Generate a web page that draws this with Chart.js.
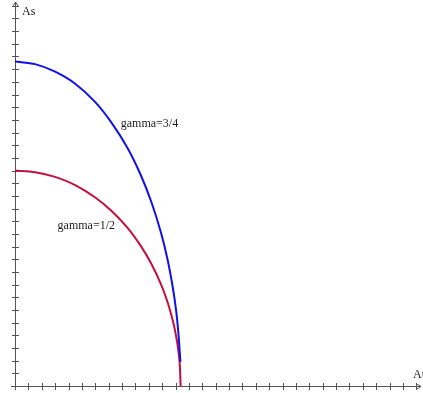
<!DOCTYPE html>
<html>
<head>
<meta charset="utf-8">
<script src="https://cdn.jsdelivr.net/npm/chart.js@4.4.1/dist/chart.umd.min.js"></script>
<style>
  html, body { margin: 0; padding: 0; background: #fff; }
  #wrap { width: 423px; height: 393px; }
</style>
</head>
<body>
<div id="wrap"><canvas id="plot"></canvas></div>
<script>
// curve samples (Au, As)
const gamma34Au = [0, 0.15, 0.3, 0.45, 0.6, 0.72, 0.84, 0.94, 1.02, 1.09, 1.14, 1.18, 1.205, 1.222, 1.232, 1.237];
const gamma34As = [2.56, 2.54, 2.48, 2.385, 2.24, 2.08, 1.88, 1.665, 1.45, 1.215, 1.0, 0.775, 0.59, 0.41, 0.26, 0.19];
const gamma12Au = [0, 0.15, 0.3, 0.45, 0.6, 0.72, 0.84, 0.94, 1.02, 1.09, 1.14, 1.18, 1.205, 1.222, 1.232, 1.238];
const gamma12As = [1.70, 1.687, 1.65, 1.585, 1.487, 1.383, 1.25, 1.106, 0.963, 0.806, 0.663, 0.514, 0.39, 0.272, 0.167, 0];

const curveLabels = ['gamma=3/4', 'gamma=1/2'];
const labelAu = [1.005, 0.533];
const labelAs = [2.07, 1.263];

const xTicks = Array.from({ length: 30 }, (_, i) => (i + 1) / 10);
const yTicks = Array.from({ length: 30 }, (_, i) => (i + 1) / 10);

const toPoints = (xs, ys) => xs.map((x, i) => ({ x: x, y: ys[i] }));

// axes with ticks crossing the line, arrows and text labels
const axesPlugin = {
    id: 'axes',
    beforeDatasetsDraw(chart) {
        const { ctx, scales: { x, y } } = chart;
        const x0 = x.getPixelForValue(0), y0 = y.getPixelForValue(0);
        const xEnd = x.right, yTop = y.top;
        ctx.save();
        ctx.strokeStyle = '#555';
        ctx.lineWidth = 1;
        ctx.beginPath();
        ctx.moveTo(x0 - 4, y0 + 0.5); ctx.lineTo(xEnd, y0 + 0.5);
        ctx.moveTo(x0 + 0.5, y0 + 4); ctx.lineTo(x0 + 0.5, yTop);
        xTicks.forEach(v => {
            const px = Math.round(x.getPixelForValue(v)) + 0.5;
            ctx.moveTo(px, y0 - 3); ctx.lineTo(px, y0 + 4);
        });
        yTicks.forEach(v => {
            const py = Math.round(y.getPixelForValue(v)) + 0.5;
            ctx.moveTo(x0 - 3, py); ctx.lineTo(x0 + 4, py);
        });
        // arrow heads
        ctx.moveTo(x0 - 2.5, yTop + 5); ctx.lineTo(x0 + 0.5, yTop); ctx.lineTo(x0 + 3.5, yTop + 5);
        ctx.moveTo(xEnd - 5, y0 - 2.5); ctx.lineTo(xEnd, y0 + 0.5); ctx.lineTo(xEnd - 5, y0 + 3.5);
        ctx.stroke();

        ctx.fillStyle = '#222';
        ctx.font = '12px "Liberation Serif", "DejaVu Serif", serif';
        ctx.textBaseline = 'middle';
        ctx.textAlign = 'left';
        ctx.fillText('As', x0 + 7, yTop + 10);
        ctx.fillText('Au', xEnd - 8, y0 - 11);
        ctx.textAlign = 'center';
        curveLabels.forEach((t, i) => {
            ctx.fillText(t, x.getPixelForValue(labelAu[i]), y.getPixelForValue(labelAs[i]));
        });
        ctx.restore();
    }
};

new Chart(document.getElementById('plot'), {
    type: 'scatter',
    data: {
        datasets: [
            {
                label: curveLabels[0],
                data: toPoints(gamma34Au, gamma34As),
                showLine: true,
                borderColor: '#1010e8',
                borderWidth: 2,
                pointRadius: 0,
                tension: 0.3
            },
            {
                label: curveLabels[1],
                data: toPoints(gamma12Au, gamma12As),
                showLine: true,
                borderColor: '#c0103c',
                borderWidth: 2,
                pointRadius: 0,
                tension: 0.3
            }
        ]
    },
    options: {
        responsive: true,
        maintainAspectRatio: false,
        animation: false,
        layout: { padding: { left: 15, right: 2, top: 2, bottom: 7 } },
        plugins: { legend: { display: false }, tooltip: { enabled: false } },
        scales: {
            x: { type: 'linear', min: 0, max: 3.035, display: false },
            y: { type: 'linear', min: 0, max: 3.03, display: false }
        }
    },
    plugins: [axesPlugin]
});
</script>
</body>
</html>
